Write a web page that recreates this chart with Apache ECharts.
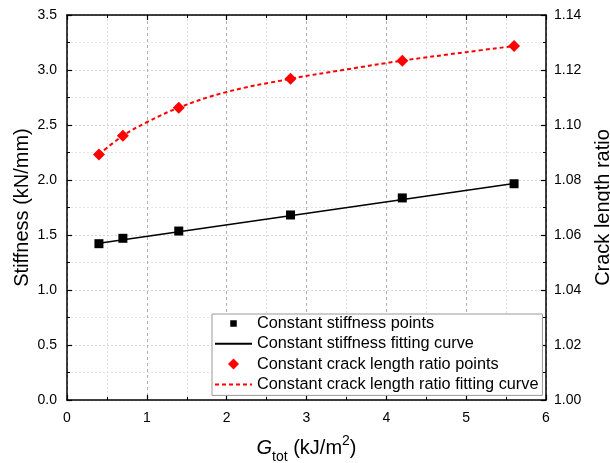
<!DOCTYPE html>
<html>
<head>
<meta charset="utf-8">
<script src="https://cdn.jsdelivr.net/npm/echarts@6/dist/echarts.min.js"></script>
<style>
  html, body { margin: 0; padding: 0; background: #fff; }
  #chart { width: 610px; height: 463px; }
</style>
</head>
<body>
<div id="chart"></div>
<script>
// Energy release rate G_tot (kJ/m^2)
const gTot = [0.4, 0.7, 1.4, 2.8, 4.2, 5.6];
// Measured stiffness (kN/mm) at constant-stiffness condition
const stiffness = [1.421, 1.470, 1.536, 1.682, 1.837, 1.966];
// Measured crack length ratio at constant-ratio condition
const crackRatio = [1.0893, 1.0961, 1.1063, 1.1168, 1.1234, 1.1287];

// Linear fit of stiffness (end points of fitted range)
const stiffFitX = [0.4, 5.6];
const stiffFitY = [1.424, 1.968];

// Fitted crack length ratio curve
const ratioFitX = [0.4, 0.7, 1.0, 1.4, 2.0, 2.8, 3.5, 4.2, 5.0, 5.6];
const ratioFitY = [1.0893, 1.0961, 1.1010, 1.1063, 1.1120, 1.1168, 1.1202, 1.1234, 1.1265, 1.1287];

// Axis ticks
const xTicks = [0, 1, 2, 3, 4, 5, 6];
const leftTicks = [0, 0.5, 1.0, 1.5, 2.0, 2.5, 3.0, 3.5];
const rightTicks = [1.00, 1.02, 1.04, 1.06, 1.08, 1.10, 1.12, 1.14];

const names = [
  'Constant stiffness points',
  'Constant stiffness fitting curve',
  'Constant crack length ratio points',
  'Constant crack length ratio fitting curve'
];

const zip = (a, b) => a.map((v, i) => [v, b[i]]);
const FONT = 'Liberation Sans, Arial, sans-serif';

// Legend markers: small glyph centred in a 37x14 icon box
const legendSquare = 'path://M0,0M37,14M15.25,3.75h6.5v6.5h-6.5z';
const legendDiamond = 'path://M0,0M37,14M18.5,1.5L24,7L18.5,12.5L13,7z';

const chart = echarts.init(document.getElementById('chart'), null, { renderer: 'canvas' });

const axisLine = { show: true, onZero: false, lineStyle: { color: '#000', width: 1.5 } };
const tickIn = { show: true, inside: true, length: 5, lineStyle: { color: '#000', width: 1.2 } };
const minorIn = { show: true, splitNumber: 2, length: 3, lineStyle: { color: '#000', width: 1 } };

chart.setOption({
  animation: false,
  textStyle: { fontFamily: FONT },
  grid: { left: 67, right: 64, top: 15, bottom: 63, containLabel: false, outerBoundsMode: 'none' },
  legend: {
    orient: 'vertical',
    left: 212,
    top: 314,
    data: [
      { name: names[0], icon: legendSquare },
      { name: names[1], itemStyle: { opacity: 0 } },
      { name: names[2], icon: legendDiamond },
      { name: names[3], itemStyle: { opacity: 0 } }
    ],
    backgroundColor: '#fff',
    borderColor: '#999',
    borderWidth: 1,
    borderRadius: 0,
    padding: [1.5, 4, 3, 2],
    itemGap: 4.3,
    itemWidth: 37,
    itemHeight: 14,
    textStyle: { fontSize: 16.3, lineHeight: 16, color: '#000', fontFamily: FONT }
  },
  xAxis: [{
    type: 'value',
    min: xTicks[0],
    max: xTicks[xTicks.length - 1],
    interval: 1,
    name: '{i|G}{sub|tot}{n| (kJ/m}{sup|2}{n|)}',
    nameLocation: 'middle',
    nameGap: 34,
    nameMoveOverlap: false,
    nameTextStyle: {
      rich: {
        i: { fontSize: 20, fontStyle: 'italic', color: '#000', fontFamily: FONT, verticalAlign: 'bottom', lineHeight: 24 },
        n: { fontSize: 20, color: '#000', fontFamily: FONT, verticalAlign: 'bottom', lineHeight: 24 },
        sub: { fontSize: 14, color: '#000', fontFamily: FONT, verticalAlign: 'bottom', lineHeight: 16, padding: [0, 0, -6, 0] },
        sup: { fontSize: 14, color: '#000', fontFamily: FONT, verticalAlign: 'top', lineHeight: 14 }
      }
    },
    axisLine: axisLine,
    axisTick: tickIn,
    minorTick: minorIn,
    axisLabel: { color: '#000', fontSize: 14, margin: 11, fontFamily: FONT },
    splitLine: { show: true, lineStyle: { color: '#b0b0b0', type: [3, 3], width: 1 } },
    minorSplitLine: { show: true, lineStyle: { color: '#e0e0e0', type: [2, 2], width: 1 } }
  }, {
    type: 'value',
    position: 'top',
    min: xTicks[0],
    max: xTicks[xTicks.length - 1],
    interval: 1,
    axisLine: axisLine,
    axisTick: tickIn,
    minorTick: minorIn,
    axisLabel: { show: false },
    splitLine: { show: false }
  }],
  yAxis: [{
    type: 'value',
    min: leftTicks[0],
    max: leftTicks[leftTicks.length - 1],
    interval: 0.5,
    name: 'Stiffness (kN/mm)',
    nameLocation: 'middle',
    nameRotate: 90,
    nameGap: 35,
    nameMoveOverlap: false,
    nameTextStyle: { fontSize: 20, color: '#000', fontFamily: FONT },
    axisLine: axisLine,
    axisTick: tickIn,
    minorTick: minorIn,
    axisLabel: { color: '#000', fontSize: 14, margin: 10, fontFamily: FONT, formatter: v => v.toFixed(1) },
    splitLine: { show: true, lineStyle: { color: '#d8d8d8', type: [2, 2], width: 1 } },
    minorSplitLine: { show: true, lineStyle: { color: '#e4e4e4', type: [2, 2], width: 1 } }
  }, {
    type: 'value',
    position: 'right',
    min: rightTicks[0],
    max: rightTicks[rightTicks.length - 1],
    interval: 0.02,
    name: 'Crack length ratio',
    nameLocation: 'middle',
    nameRotate: 90,
    nameGap: 47,
    nameMoveOverlap: false,
    nameTextStyle: { fontSize: 20, color: '#000', fontFamily: FONT },
    axisLine: axisLine,
    axisTick: tickIn,
    minorTick: minorIn,
    axisLabel: { color: '#000', fontSize: 14, margin: 8, fontFamily: FONT, formatter: v => v.toFixed(2) },
    splitLine: { show: false }
  }],
  series: [{
    name: names[0],
    type: 'line',
    xAxisIndex: 0,
    yAxisIndex: 0,
    data: zip(gTot, stiffness),
    symbol: 'rect',
    symbolSize: 9,
    itemStyle: { color: '#000' },
    lineStyle: { width: 0, opacity: 0 },
    z: 5
  }, {
    name: names[1],
    type: 'line',
    xAxisIndex: 0,
    yAxisIndex: 0,
    data: zip(stiffFitX, stiffFitY),
    symbol: 'none',
    itemStyle: { color: '#000' },
    lineStyle: { color: '#000', width: 1.5 },
    z: 3
  }, {
    name: names[2],
    type: 'line',
    xAxisIndex: 0,
    yAxisIndex: 1,
    data: zip(gTot, crackRatio),
    symbol: 'diamond',
    symbolSize: 12,
    itemStyle: { color: '#ff0000' },
    lineStyle: { width: 0, opacity: 0 },
    z: 5
  }, {
    name: names[3],
    type: 'line',
    xAxisIndex: 0,
    yAxisIndex: 1,
    data: zip(ratioFitX, ratioFitY),
    smooth: 0.4,
    symbol: 'none',
    itemStyle: { color: '#ff0000' },
    lineStyle: { color: '#ff0000', width: 2, type: [4, 3] },
    z: 3
  }]
});
</script>
</body>
</html>
